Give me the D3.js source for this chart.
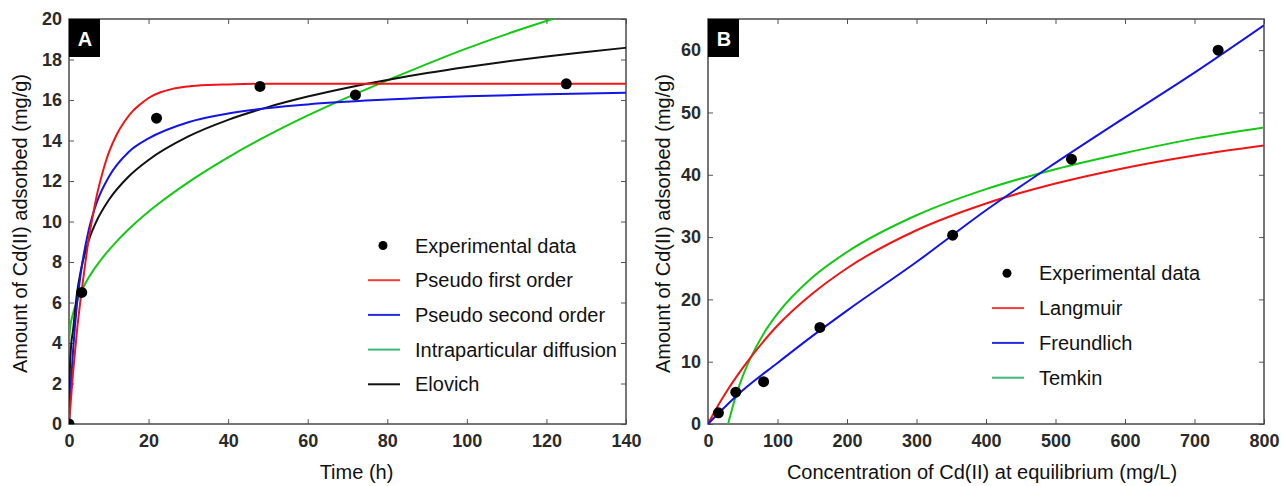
<!DOCTYPE html>
<html>
<head>
<meta charset="utf-8">
<script src="https://cdn.jsdelivr.net/npm/d3@7"></script>
<style>
  body { margin: 0; background: #fff; }
  text { font-family: "Liberation Sans", Arial, sans-serif; }
</style>
</head>
<body>
<div id="chart"></div>
<script>
// ---- Panel A: kinetics ----
var timeTicks = [0, 20, 40, 60, 80, 100, 120, 140];
var qtTicks = [0, 2, 4, 6, 8, 10, 12, 14, 16, 18, 20];

var expTime = [0, 3.2, 22, 48, 72, 125];
var expQt   = [0, 6.5, 15.1, 16.67, 16.25, 16.8];

var pfoTime = [0, 1, 2, 3, 4, 5, 6, 7, 8, 9, 10, 12, 14, 16, 18, 20, 23, 26, 30, 35, 40, 50, 140];
var pfoQt   = [0, 2.5, 4.6, 6.3, 7.8, 9.2, 10.3, 11.3, 12.1, 12.8, 13.4, 14.3, 14.95, 15.45, 15.8, 16.1, 16.38, 16.55, 16.67, 16.74, 16.77, 16.8, 16.8];

var psoTime = [0, 0.5, 1, 2, 3, 5, 7, 10, 15, 20, 30, 40, 60, 80, 100, 120, 140];
var psoQt   = [0, 2.0, 3.56, 5.9, 7.5, 9.62, 10.95, 12.2, 13.43, 14.1, 14.9, 15.33, 15.78, 16.02, 16.18, 16.28, 16.36];

var ipdTime = [0, 0.25, 1, 2, 4, 8, 12, 16, 22, 31, 40, 54, 67, 81, 100, 120, 125];
var ipdQt   = [4.0, 4.7, 5.45, 6.05, 6.9, 8.1, 9.02, 9.8, 10.8, 12.07, 13.17, 14.66, 15.87, 17.05, 18.55, 19.9, 20.2];

var elovichTime = [0, 0.2, 0.5, 1, 2, 3, 5, 7, 10, 15, 20, 30, 40, 50, 60, 70, 80, 90, 100, 110, 120, 130, 140];
var elovichQt   = [0, 2.5, 3.8, 4.6, 6.45, 7.6, 9.09, 10.05, 11.06, 12.22, 13.04, 14.2, 15.02, 15.65, 16.17, 16.61, 16.99, 17.33, 17.63, 17.9, 18.15, 18.37, 18.58];

// ---- Panel B: isotherms ----
var ceTicks = [0, 100, 200, 300, 400, 500, 600, 700, 800];
var qeTicks = [0, 10, 20, 30, 40, 50, 60];

var expCe = [15, 40, 80, 161, 352, 523, 734];
var expQe = [1.8, 5.1, 6.8, 15.5, 30.3, 42.5, 60.0];

var langCe = [0, 10, 25, 50, 100, 150, 200, 300, 400, 500, 600, 700, 800];
var langQe = [0, 2.1, 4.9, 9.0, 15.8, 20.9, 25.0, 31.1, 35.4, 38.6, 41.1, 43.1, 44.7];

var freuCe = [0, 25, 50, 100, 150, 200, 300, 400, 500, 600, 700, 800];
var freuQe = [0, 2.8, 5.4, 9.8, 14.1, 18.2, 26.0, 34.3, 41.9, 49.2, 56.4, 64.0];

var temkCe = [29, 30, 32, 35, 40, 50, 60, 80, 100, 150, 200, 300, 400, 500, 600, 700, 800];
var temkQe = [0, 0.5, 1.27, 2.55, 4.48, 7.7, 10.3, 14.5, 17.7, 23.5, 27.6, 33.5, 37.7, 40.9, 43.5, 45.8, 47.6];

var legendA = ["Experimental data", "Pseudo first order", "Pseudo second order", "Intraparticular diffusion", "Elovich"];
var legendB = ["Experimental data", "Langmuir", "Freundlich", "Temkin"];

var RED = "#f01414", BLUE = "#1414e6", GREEN = "#14c814", BLACK = "#111";

var svg = d3.select("#chart")
            .append("svg")
            .attr("width", 1284)
            .attr("height", 486);

function pairs(xs, ys) { return d3.zip(xs, ys); }

function drawPanel(opt) {
    var x = d3.scaleLinear().domain(opt.xDomain).range([opt.left, opt.right]);
    var y = d3.scaleLinear().domain(opt.yDomain).range([opt.bottom, opt.top]);

    svg.append("clipPath").attr("id", "clip" + opt.tag)
        .append("rect")
        .attr("x", opt.left).attr("y", opt.top)
        .attr("width", opt.right - opt.left).attr("height", opt.bottom - opt.top);

    // axes with inward ticks on all four sides
    var gx = svg.append("g").attr("transform", "translate(0," + opt.bottom + ")")
        .call(d3.axisBottom(x).tickValues(opt.xTicks).tickSizeInner(-5).tickSizeOuter(0).tickPadding(10));
    var gy = svg.append("g").attr("transform", "translate(" + opt.left + ",0)")
        .call(d3.axisLeft(y).tickValues(opt.yTicks).tickSizeInner(-5).tickSizeOuter(0).tickPadding(7));
    var gt = svg.append("g").attr("transform", "translate(0," + opt.top + ")")
        .call(d3.axisTop(x).tickValues(opt.xTicks).tickSizeInner(-5).tickSizeOuter(0).tickFormat(""));
    var gr = svg.append("g").attr("transform", "translate(" + opt.right + ",0)")
        .call(d3.axisRight(y).tickValues(opt.yTicks).tickSizeInner(-5).tickSizeOuter(0).tickFormat(""));
    [gx, gy, gt, gr].forEach(function(g) {
        g.select(".domain").remove();
        g.selectAll(".tick line").attr("stroke", "#555");
        g.selectAll("text")
            .attr("font-family", "Liberation Sans, Arial, sans-serif")
            .attr("font-size", "18px")
            .attr("font-weight", "bold")
            .attr("fill", "#2a2a2a");
    });

    svg.append("rect")
        .attr("x", opt.left).attr("y", opt.top)
        .attr("width", opt.right - opt.left).attr("height", opt.bottom - opt.top)
        .attr("fill", "none").attr("stroke", "#4a4a4a").attr("stroke-width", 1.5);

    // fitted curves
    var line = d3.line()
        .x(function(d) { return x(d[0]); })
        .y(function(d) { return y(d[1]); })
        .curve(d3.curveMonotoneX);
    var plot = svg.append("g").attr("clip-path", "url(#clip" + opt.tag + ")");
    opt.series.forEach(function(s) {
        plot.append("path")
            .datum(s.data)
            .attr("d", line)
            .attr("fill", "none")
            .attr("stroke", s.color)
            .attr("stroke-width", 2);
    });

    // experimental points
    plot.selectAll("circle")
        .data(opt.points)
        .enter()
        .append("circle")
        .attr("cx", function(d) { return x(d[0]); })
        .attr("cy", function(d) { return y(d[1]); })
        .attr("r", 5.5)
        .attr("fill", "#000");

    // panel letter
    svg.append("rect")
        .attr("x", opt.left).attr("y", opt.top)
        .attr("width", 31).attr("height", 38)
        .attr("fill", "#000");
    svg.append("text")
        .text(opt.tag)
        .attr("x", opt.left + 16).attr("y", opt.top + 27)
        .attr("text-anchor", "middle")
        .attr("font-size", "20px")
        .attr("font-weight", "bold")
        .attr("fill", "#fff");

    // axis titles
    svg.append("text")
        .text(opt.xTitle)
        .attr("x", (opt.left + opt.right) / 2 + opt.xTitleShift)
        .attr("y", 479)
        .attr("text-anchor", "middle")
        .attr("font-size", "20px")
        .attr("fill", "#111");
    svg.append("text")
        .text(opt.yTitle)
        .attr("transform", "translate(" + opt.yTitleX + "," + ((opt.top + opt.bottom) / 2 + 2) + ") rotate(-90)")
        .attr("text-anchor", "middle")
        .attr("font-size", "20px")
        .attr("fill", "#111");

    // legend
    var lg = svg.append("g");
    opt.legend.forEach(function(item, i) {
        var ly = opt.legendY + i * opt.legendStep;
        if (item.type === "dot") {
            lg.append("circle")
                .attr("cx", opt.legendX + 15).attr("cy", ly)
                .attr("r", 4.5).attr("fill", "#000");
        } else {
            lg.append("line")
                .attr("x1", opt.legendX).attr("x2", opt.legendX + 32)
                .attr("y1", ly).attr("y2", ly)
                .attr("stroke", item.color).attr("stroke-width", 2);
        }
        lg.append("text")
            .text(item.label)
            .attr("x", opt.legendX + 47).attr("y", ly + 7)
            .attr("font-size", "20px")
            .attr("fill", "#111");
    });
}

drawPanel({
    tag: "A",
    left: 69, right: 626, top: 19, bottom: 424,
    xDomain: [0, 140], yDomain: [0, 20],
    xTicks: timeTicks, yTicks: qtTicks,
    xTitle: "Time (h)", xTitleShift: 9,
    yTitle: "Amount of Cd(II) adsorbed (mg/g)", yTitleX: 27,
    points: pairs(expTime, expQt),
    series: [
        { color: GREEN, data: pairs(ipdTime, ipdQt) },
        { color: BLACK, data: pairs(elovichTime, elovichQt) },
        { color: BLUE, data: pairs(psoTime, psoQt) },
        { color: RED, data: pairs(pfoTime, pfoQt) }
    ],
    legendX: 368, legendY: 245.5, legendStep: 34.7,
    legend: [
        { label: legendA[0], type: "dot" },
        { label: legendA[1], color: "#f03c3c" },
        { label: legendA[2], color: "#2828e0" },
        { label: legendA[3], color: "#3cb878" },
        { label: legendA[4], color: "#111" }
    ]
});

drawPanel({
    tag: "B",
    left: 708, right: 1264, top: 19, bottom: 424,
    xDomain: [0, 800], yDomain: [0, 65],
    xTicks: ceTicks, yTicks: qeTicks,
    xTitle: "Concentration of Cd(II) at equilibrium (mg/L)", xTitleShift: -4,
    yTitle: "Amount of Cd(II) adsorbed (mg/g)", yTitleX: 670,
    points: pairs(expCe, expQe),
    series: [
        { color: GREEN, data: pairs(temkCe, temkQe) },
        { color: RED, data: pairs(langCe, langQe) },
        { color: BLUE, data: pairs(freuCe, freuQe) }
    ],
    legendX: 992, legendY: 273.3, legendStep: 34.8,
    legend: [
        { label: legendB[0], type: "dot" },
        { label: legendB[1], color: "#f03c3c" },
        { label: legendB[2], color: "#2828e0" },
        { label: legendB[3], color: "#3cb878" }
    ]
});
</script>
</body>
</html>
